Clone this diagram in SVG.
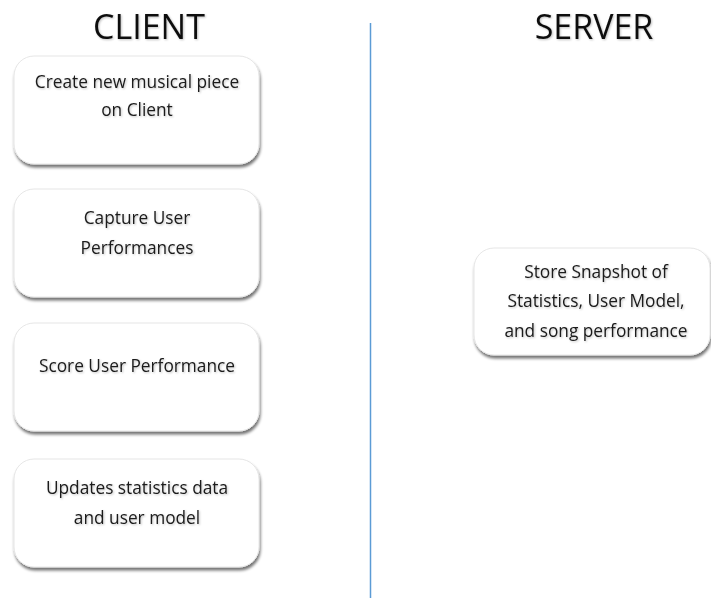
<svg xmlns="http://www.w3.org/2000/svg" width="711" height="598" viewBox="0 0 711 598">
<defs>
<filter id="sh" x="-10%" y="-10%" width="130%" height="140%">
<feGaussianBlur in="SourceAlpha" stdDeviation="1.5"/>
<feOffset dx="1" dy="3" result="b"/>
<feComponentTransfer><feFuncA type="linear" slope="0.55"/></feComponentTransfer>
<feMerge><feMergeNode/><feMergeNode in="SourceGraphic"/></feMerge>
</filter>
<filter id="tsh" x="-5%" y="-10%" width="110%" height="130%">
<feGaussianBlur in="SourceAlpha" stdDeviation="0.8"/>
<feOffset dx="1" dy="1"/>
<feComponentTransfer><feFuncA type="linear" slope="0.25"/></feComponentTransfer>
<feMerge><feMergeNode/><feMergeNode in="SourceGraphic"/></feMerge>
</filter>
</defs>
<style>
.box{fill:#ffffff;stroke:#e6e6e6;stroke-width:1;filter:url(#sh)}
.t{font-family:"Open Sans","Liberation Sans",Arial,sans-serif;font-size:17.3px;fill:#1a1a1a;text-anchor:middle;filter:url(#tsh)}
.h{font-family:"Open Sans","Liberation Sans",Arial,sans-serif;font-size:34px;fill:#111111;text-anchor:middle;filter:url(#tsh)}
</style>
<rect width="711" height="598" fill="#ffffff"/>
<text class="h" x="149" y="39">CLIENT</text>
<text class="h" x="594" y="39">SERVER</text>
<g id="connectors">
<line x1="370.5" y1="23" x2="370.5" y2="598" stroke="#5b9bd5" stroke-width="1.5"/>
</g>
<g id="create">
<rect class="box" x="14" y="56" width="245" height="108" rx="20"/>
<text class="t" x="137" y="88">Create new musical piece</text>
<text class="t" x="137" y="116">on Client</text>
</g>
<g id="capture">
<rect class="box" x="14" y="189" width="245" height="108" rx="20"/>
<text class="t" x="137" y="224">Capture User</text>
<text class="t" x="137" y="254">Performances</text>
</g>
<g id="score">
<rect class="box" x="14" y="323" width="245" height="108" rx="20"/>
<text class="t" x="137" y="372">Score User Performance</text>
</g>
<g id="updates">
<rect class="box" x="14" y="459" width="245" height="108" rx="20"/>
<text class="t" x="137" y="494">Updates statistics data</text>
<text class="t" x="137" y="524">and user model</text>
</g>
<g id="store">
<rect class="box" x="474" y="248" width="236" height="107" rx="20"/>
<text class="t" x="596" y="278">Store Snapshot of</text>
<text class="t" x="596" y="307">Statistics, User Model,</text>
<text class="t" x="596" y="337">and song performance</text>
</g>
</svg>
